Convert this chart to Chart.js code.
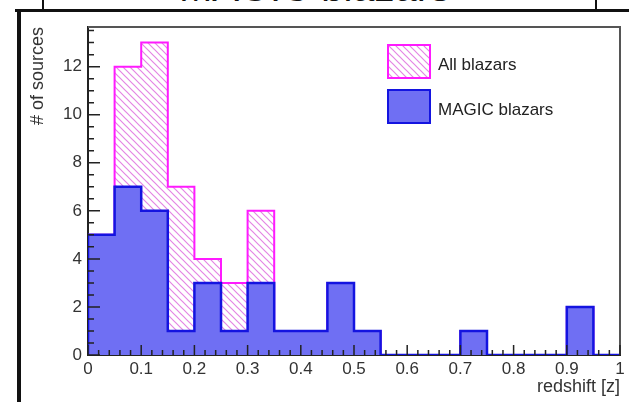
<!DOCTYPE html>
<html>
<head>
<meta charset="utf-8">
<script src="https://cdn.jsdelivr.net/npm/chart.js@4"></script>
<style>
  html, body { margin: 0; padding: 0; background: #fff; }
  #wrap { position: relative; width: 629px; height: 402px; overflow: hidden; }
  #title { position: absolute; left: 0; top: -33px; width: 629px; text-align: center;
           font: 40px/40px "Liberation Sans", Arial, sans-serif; color: #111; }
  .ln { position: absolute; background: #111; }
  #hist { position: absolute; left: 0; top: 0; }
</style>
</head>
<body>
<div id="wrap">
  <div id="title">MAGIC blazars</div>
  <div class="ln" style="left:42px;top:0;width:2px;height:10px"></div>
  <div class="ln" style="left:595px;top:0;width:2px;height:10px"></div>
  <div class="ln" style="left:15px;top:9px;width:614px;height:3px"></div>
  <div class="ln" style="left:17px;top:9px;width:4px;height:393px"></div>
  <canvas id="hist" width="629" height="402"></canvas>
</div>
<script>
// left edges of the redshift bins (width 0.05)
const binEdges = [0, 0.05, 0.1, 0.15, 0.2, 0.25, 0.3, 0.35, 0.4, 0.45,
                  0.5, 0.55, 0.6, 0.65, 0.7, 0.75, 0.8, 0.85, 0.9, 0.95];
const binEnd = 1;

const allBlazars   = [5, 12, 13, 7, 4, 3, 6, 1, 1, 3, 1, 0, 0, 0, 1, 0, 0, 0, 2, 0];
const magicBlazars = [5,  7,  6, 1, 3, 1, 3, 1, 1, 3, 1, 0, 0, 0, 1, 0, 0, 0, 2, 0];

const seriesNames = ['All blazars', 'MAGIC blazars'];

const font = '"Liberation Sans", Arial, sans-serif';
const textColor = '#333';

// histogram outline as a step line: start at 0, one point per bin, close at the last edge
function toSteps(values) {
  const pts = [{x: binEdges[0], y: 0}];
  binEdges.forEach(function(e, i) {
    pts.push({x: e, y: values[i]});
  });
  pts.push({x: binEnd, y: values[values.length - 1]});
  return pts;
}

function hatch(color) {
  const s = 7;
  const c = document.createElement('canvas');
  c.width = s; c.height = s;
  const g = c.getContext('2d');
  g.strokeStyle = color;
  g.lineWidth = 1.2;
  g.beginPath();
  g.moveTo(0, 0); g.lineTo(s, s);
  g.moveTo(-1, s - 1); g.lineTo(1, s + 1);
  g.moveTo(s - 1, -1); g.lineTo(s + 1, 1);
  g.stroke();
  return g.createPattern(c, 'repeat');
}

const hatchFill = hatch('#e486e4');

// ROOT-like inner ticks and frame
const rootFrame = {
  id: 'rootFrame',
  afterDatasetsDraw(chart) {
    const {ctx, chartArea: a, scales: {x, y}} = chart;
    ctx.save();
    ctx.strokeStyle = '#555';
    ctx.lineWidth = 2;
    ctx.beginPath();
    ctx.moveTo(a.left, a.top); ctx.lineTo(a.right, a.top); ctx.lineTo(a.right, a.bottom);
    ctx.stroke();

    ctx.strokeStyle = '#222';
    ctx.lineWidth = 1.5;
    ctx.beginPath();
    for (let i = 0; i <= 50; i++) {
      const px = x.getPixelForValue(i / 50);
      const len = i % 5 === 0 ? 10 : 5;
      ctx.moveTo(px, a.bottom); ctx.lineTo(px, a.bottom - len);
    }
    for (let i = 0; i <= 27; i++) {
      const py = y.getPixelForValue(i * 0.5);
      if (py < a.top) continue;
      const len = i % 4 === 0 ? 12 : 6;
      ctx.moveTo(a.left, py); ctx.lineTo(a.left + len, py);
    }
    ctx.stroke();
    ctx.restore();
  },
  afterDraw(chart) {
    // legend, ROOT style (top right, no border)
    const ctx = chart.ctx;
    ctx.save();
    ctx.font = '17px ' + font;
    ctx.textBaseline = 'middle';
    ctx.textAlign = 'left';
    chart.data.datasets.forEach(function(ds, i) {
      const top = 45 + i * 45;
      ctx.fillStyle = ds.backgroundColor;
      ctx.fillRect(388, top, 42, 33);
      ctx.strokeStyle = ds.borderColor;
      ctx.lineWidth = 2;
      ctx.strokeRect(388, top, 42, 33);
      ctx.fillStyle = '#222';
      ctx.fillText(ds.label, 438, top + 20);
    });
    ctx.restore();
  }
};

Chart.defaults.font.family = font;

const config = {
  type: 'line',
  data: {
    datasets: [{
      label: seriesNames[0],
      data: toSteps(allBlazars),
      stepped: 'before',
      borderColor: '#ff1aff',
      borderWidth: 2,
      backgroundColor: hatchFill,
      fill: 'origin',
      pointRadius: 0,
      order: 1
    }, {
      label: seriesNames[1],
      data: toSteps(magicBlazars),
      stepped: 'before',
      borderColor: '#1414e0',
      borderWidth: 2.5,
      backgroundColor: '#6f6ff3',
      fill: 'origin',
      pointRadius: 0,
      order: 0
    }]
  },
  options: {
    responsive: false,
    animation: false,
    layout: { padding: { left: 20, right: 9, top: 27, bottom: 0 } },
    plugins: {
      legend: { display: false },
      tooltip: { enabled: false }
    },
    scales: {
      x: {
        type: 'linear',
        min: 0,
        max: 1,
        grid: { display: false, drawTicks: false },
        border: { display: true, color: '#222', width: 2 },
        ticks: {
          stepSize: 0.1,
          padding: 4,
          maxRotation: 0,
          autoSkip: false,
          color: textColor,
          font: { size: 17 },
          callback: function(v) { return String(Math.round(v * 10) / 10); }
        },
        title: {
          display: true,
          text: 'redshift [z]',
          align: 'end',
          color: textColor,
          font: { size: 18 },
          padding: { top: 0, bottom: 4 }
        },
        afterFit: function(s) { s.height = 47; }
      },
      y: {
        min: 0,
        max: 13.65,
        grid: { display: false, drawTicks: false },
        border: { display: true, color: '#222', width: 2 },
        ticks: {
          stepSize: 2,
          includeBounds: false,
          padding: 6,
          color: textColor,
          font: { size: 17 },
          callback: function(v) { return v % 2 === 0 ? v : ''; }
        },
        title: {
          display: true,
          text: '# of sources',
          align: 'end',
          color: textColor,
          font: { size: 18 },
          padding: { top: 7, bottom: 0 }
        },
        afterFit: function(s) { s.width = 68; }
      }
    }
  },
  plugins: [rootFrame]
};

const histChart = new Chart(document.getElementById('hist'), config);
</script>
</body>
</html>
